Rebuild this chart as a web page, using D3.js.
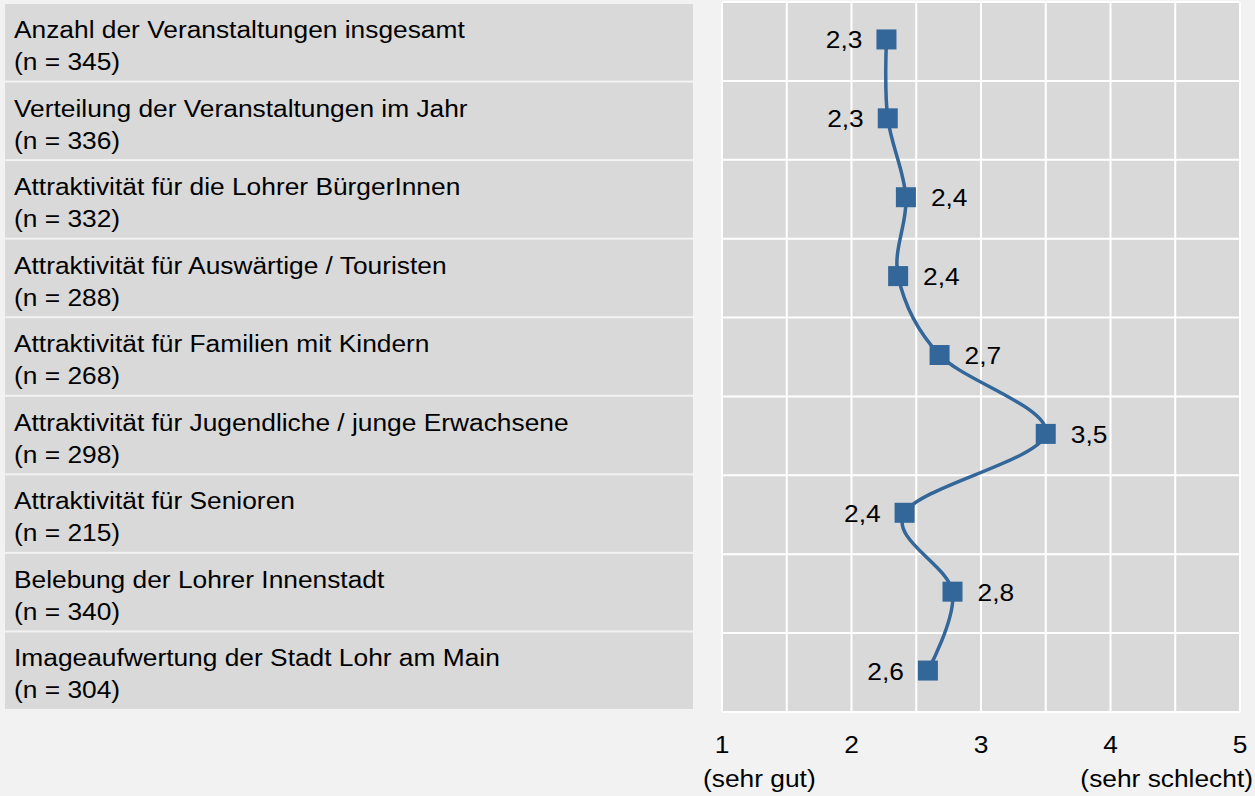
<!DOCTYPE html>
<html>
<head>
<meta charset="utf-8">
<script src="https://cdn.jsdelivr.net/npm/d3@7"></script>
<style>
  body { margin: 0; background: #f2f2f2; }
  text { font-family: "Liberation Sans", Arial, sans-serif; fill: #000; font-size: 24.5px; }
</style>
</head>
<body>
<div id="chart"></div>
<script>
var svgWidth = 1255;
var svgHeight = 796;

// data
var categories = [
  "Anzahl der Veranstaltungen insgesamt",
  "Verteilung der Veranstaltungen im Jahr",
  "Attraktivität für die Lohrer BürgerInnen",
  "Attraktivität für Auswärtige / Touristen",
  "Attraktivität für Familien mit Kindern",
  "Attraktivität für Jugendliche / junge Erwachsene",
  "Attraktivität für Senioren",
  "Belebung der Lohrer Innenstadt",
  "Imageaufwertung der Stadt Lohr am Main"
];
var counts = [345, 336, 332, 288, 268, 298, 215, 340, 304];
var values = [2.27, 2.28, 2.42, 2.36, 2.68, 3.50, 2.41, 2.78, 2.59];
var valueLabels = ["2,3", "2,3", "2,4", "2,4", "2,7", "3,5", "2,4", "2,8", "2,6"];
var labelSide = ["left", "left", "right", "right", "right", "right", "left", "right", "left"];
var tickValues = [1, 2, 3, 4, 5];
var endLabels = ["(sehr gut)", "(sehr schlecht)"];

// text in the reference is a bit wider than it is tall
var stretch = 1.075;
function place(px, py) {
  return "translate(" + px + "," + py + ") scale(" + stretch + ",1)";
}

var svg = d3.select("#chart")
  .append("svg")
  .attr("width", svgWidth)
  .attr("height", svgHeight);

var x = d3.scaleLinear().domain([1, 5]).range([722, 1240]);
var yPlot = d3.scaleBand().domain(d3.range(categories.length)).range([2, 712]);
var yLab = d3.scaleBand().domain(d3.range(categories.length)).range([4, 711]);

// left label panels
var labelGroup = svg.append("g");
labelGroup.selectAll("rect")
  .data(categories)
  .enter()
  .append("rect")
  .attr("x", 5)
  .attr("y", (d, i) => yLab(i))
  .attr("width", 688)
  .attr("height", yLab.bandwidth() - 2)
  .attr("fill", "#d9d9d9");

labelGroup.selectAll("text.cat")
  .data(categories)
  .enter()
  .append("text")
  .attr("class", "cat")
  .attr("transform", (d, i) => place(14, yLab(i) + 34))
  .text(d => d);

labelGroup.selectAll("text.n")
  .data(counts)
  .enter()
  .append("text")
  .attr("class", "n")
  .attr("transform", (d, i) => place(14, yLab(i) + 66))
  .text(d => "(n = " + d + ")");

// plot area
var plot = svg.append("g");
plot.append("rect")
  .attr("x", x(1))
  .attr("y", yPlot.range()[0])
  .attr("width", x(5) - x(1))
  .attr("height", yPlot.range()[1] - yPlot.range()[0])
  .attr("fill", "#d9d9d9");

plot.selectAll("line.v")
  .data(d3.range(1, 5.01, 0.5))
  .enter()
  .append("line")
  .attr("class", "v")
  .attr("x1", d => x(d))
  .attr("x2", d => x(d))
  .attr("y1", yPlot.range()[0])
  .attr("y2", yPlot.range()[1])
  .attr("stroke", "#fff")
  .attr("stroke-width", 2);

plot.selectAll("line.h")
  .data(d3.range(categories.length + 1))
  .enter()
  .append("line")
  .attr("class", "h")
  .attr("x1", x(1))
  .attr("x2", x(5))
  .attr("y1", d => yPlot.range()[0] + d * yPlot.step())
  .attr("y2", d => yPlot.range()[0] + d * yPlot.step())
  .attr("stroke", "#fff")
  .attr("stroke-width", 2);

var cy = i => yPlot(i) + yPlot.bandwidth() / 2 - 2;

var line = d3.line()
  .x(d => x(d))
  .y((d, i) => cy(i))
  .curve(d3.curveCardinal.tension(0));

plot.append("path")
  .datum(values)
  .attr("d", line)
  .attr("fill", "none")
  .attr("stroke", "#336699")
  .attr("stroke-width", 3.5);

var ms = 20;
plot.selectAll("rect.m")
  .data(values)
  .enter()
  .append("rect")
  .attr("class", "m")
  .attr("x", d => x(d) - ms / 2)
  .attr("y", (d, i) => cy(i) - ms / 2)
  .attr("width", ms)
  .attr("height", ms)
  .attr("fill", "#336699");

plot.selectAll("text.val")
  .data(values)
  .enter()
  .append("text")
  .attr("class", "val")
  .attr("transform", (d, i) => place(labelSide[i] == "left" ? x(d) - 24 : x(d) + 25, cy(i) + 9))
  .attr("text-anchor", (d, i) => labelSide[i] == "left" ? "end" : "start")
  .text((d, i) => valueLabels[i]);

// axis labels
svg.selectAll("text.tick")
  .data(tickValues)
  .enter()
  .append("text")
  .attr("class", "tick")
  .attr("transform", d => place(x(d), 753))
  .attr("text-anchor", "middle")
  .text(d => d);

svg.append("text")
  .attr("transform", place(x(1) - 19, 787))
  .text(endLabels[0]);

svg.append("text")
  .attr("transform", place(x(5) + 13, 787))
  .attr("text-anchor", "end")
  .text(endLabels[1]);
</script>
</body>
</html>
